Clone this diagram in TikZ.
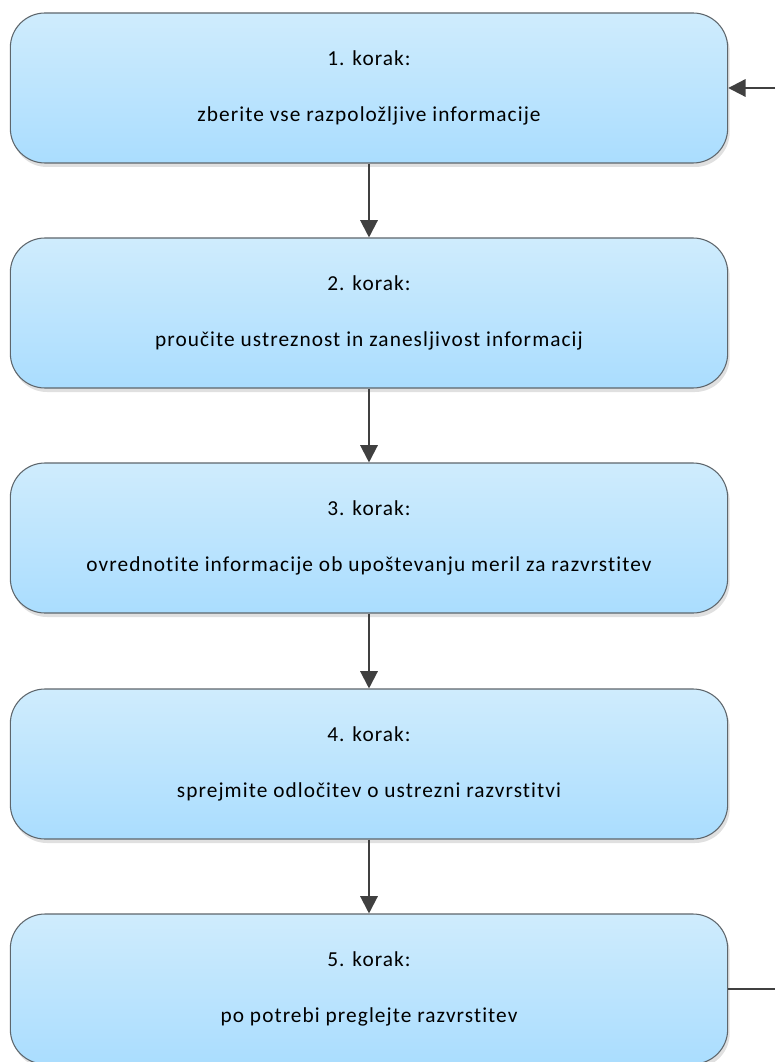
\documentclass[tikz,border=0pt]{standalone}
\usepackage{fontspec}
\setmainfont{Carlito}[LetterSpace=5,Ligatures=NoCommon]
\usepackage{tikz}
\usetikzlibrary{arrows.meta,positioning,shadows}
\definecolor{ktop}{HTML}{CFECFD}
\definecolor{kbot}{HTML}{AADDFE}
\definecolor{kline}{HTML}{5E666C}
\definecolor{karr}{HTML}{404040}
\tikzset{
  % Light blue step box with a soft shadow underneath.
  korak/.style = {rectangle, rounded corners=26pt, draw=kline, line width=0.8pt,
                  top color=ktop, bottom color=kbot, align=center,
                  minimum width=538pt, minimum height=112.5pt,
                  font=\fontsize{16}{19}\selectfont,
                  drop shadow={shadow xshift=1.5pt, shadow yshift=-3pt, fill=black, opacity=0.12}},
  arr/.style   = {-{Triangle[length=13pt,width=13pt]}, line width=1.6pt, karr},
}
\begin{document}
\begin{tikzpicture}[x=0.75pt,y=-0.75pt]
\useasboundingbox (0,0) rectangle (775,1062);
\node[korak] (s1) at (369,88)  {1. korak:\\[23pt]zberite vse razpoložljive informacije};
\node[korak] (s2) at (369,313) {2. korak:\\[23pt]proučite ustreznost in zanesljivost informacij};
\node[korak] (s3) at (369,538) {3. korak:\\[23pt]ovrednotite informacije ob upoštevanju meril za razvrstitev};
\node[korak] (s4) at (369,764) {4. korak:\\[23pt]sprejmite odločitev o ustrezni razvrstitvi};
\node[korak] (s5) at (369,989) {5. korak:\\[23pt]po potrebi preglejte razvrstitev};
\coordinate (back) at (775,88);
\coordinate (out)  at (775,989);
\draw[arr] (s1) -- (s2);
\draw[arr] (s2) -- (s3);
\draw[arr] (s3) -- (s4);
\draw[arr] (s4) -- (s5);
\draw[arr] (back) -- (s1.east);
\draw[line width=1.6pt, karr] (s5.east) -- (out);
\end{tikzpicture}
\end{document}
